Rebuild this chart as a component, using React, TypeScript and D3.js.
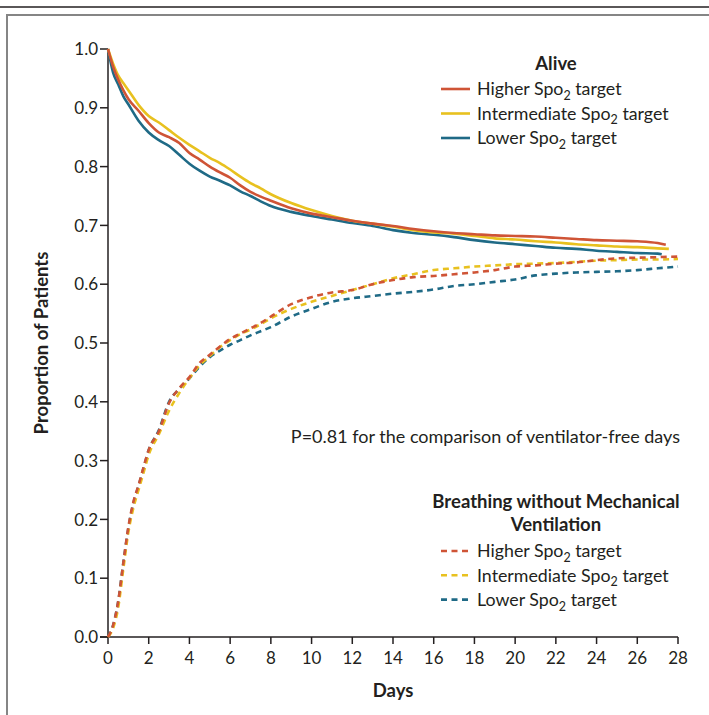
import React from "react";
import * as d3 from "d3";

const ALIVE_DAYS = [0, 0.25, 0.5, 0.75, 1, 1.5, 2, 2.5, 3, 3.5, 4, 4.5, 5, 5.5, 6, 6.5, 7, 7.5, 8, 9, 10, 11, 12, 13, 14, 15, 16, 17, 18, 19, 20, 21, 22, 23, 24, 25, 26, 27];
const ALIVE_HIGHER = [1.0, 0.97, 0.948, 0.93, 0.915, 0.895, 0.874, 0.858, 0.85, 0.84, 0.823, 0.812, 0.8, 0.79, 0.781, 0.768, 0.757, 0.749, 0.742, 0.729, 0.72, 0.714, 0.708, 0.703, 0.699, 0.694, 0.69, 0.687, 0.685, 0.683, 0.682, 0.681, 0.679, 0.677, 0.675, 0.674, 0.673, 0.67];
const ALIVE_INTER = [1.0, 0.975, 0.955, 0.942, 0.93, 0.905, 0.886, 0.875, 0.862, 0.849, 0.837, 0.826, 0.815, 0.806, 0.795, 0.783, 0.772, 0.763, 0.753, 0.738, 0.726, 0.716, 0.708, 0.703, 0.698, 0.692, 0.688, 0.686, 0.682, 0.678, 0.676, 0.673, 0.671, 0.668, 0.666, 0.664, 0.663, 0.661];
const ALIVE_LOWER = [1.0, 0.96, 0.94, 0.92, 0.906, 0.878, 0.858, 0.845, 0.835, 0.82, 0.805, 0.793, 0.783, 0.776, 0.768, 0.758, 0.75, 0.741, 0.733, 0.723, 0.716, 0.71, 0.704, 0.699, 0.692, 0.687, 0.684, 0.68, 0.675, 0.671, 0.668, 0.665, 0.662, 0.66, 0.657, 0.655, 0.653, 0.652];
const ALIVE_END_DAY = [27.4, 27.55, 27.2];
const ALIVE_END_VAL = [0.667, 0.66, 0.651];

const FREE_DAYS = [0, 0.25, 0.5, 0.75, 1, 1.25, 1.5, 1.75, 2, 2.5, 3, 3.5, 4, 4.5, 5, 5.5, 6, 6.5, 7, 7.5, 8, 9, 10, 11, 12, 13, 14, 15, 16, 17, 18, 19, 20, 21, 22, 23, 24, 25, 26, 27, 28];
const FREE_HIGHER = [0, 0.02, 0.06, 0.125, 0.187, 0.23, 0.258, 0.289, 0.318, 0.35, 0.398, 0.423, 0.442, 0.466, 0.48, 0.494, 0.507, 0.516, 0.525, 0.534, 0.545, 0.566, 0.578, 0.586, 0.59, 0.6, 0.607, 0.612, 0.614, 0.617, 0.62, 0.624, 0.63, 0.632, 0.635, 0.637, 0.641, 0.644, 0.645, 0.646, 0.647];
const FREE_INTER = [0, 0.015, 0.05, 0.115, 0.178, 0.22, 0.25, 0.28, 0.31, 0.345, 0.385, 0.415, 0.44, 0.462, 0.478, 0.493, 0.505, 0.515, 0.523, 0.532, 0.542, 0.558, 0.57, 0.58, 0.59, 0.6, 0.61, 0.617, 0.624, 0.627, 0.63, 0.632, 0.634, 0.635, 0.636, 0.638, 0.64, 0.641, 0.642, 0.642, 0.643];
const FREE_LOWER = [0, 0.02, 0.06, 0.125, 0.185, 0.228, 0.257, 0.288, 0.318, 0.352, 0.4, 0.422, 0.44, 0.46, 0.476, 0.487, 0.497, 0.505, 0.513, 0.52, 0.527, 0.545, 0.558, 0.57, 0.576, 0.58, 0.584, 0.587, 0.591, 0.597, 0.6, 0.604, 0.608, 0.615, 0.618, 0.62, 0.621, 0.622, 0.624, 0.627, 0.63];

const X_TICKS = [0, 2, 4, 6, 8, 10, 12, 14, 16, 18, 20, 22, 24, 26, 28];
const Y_TICKS = [0, 0.1, 0.2, 0.3, 0.4, 0.5, 0.6, 0.7, 0.8, 0.9, 1.0];
const SERIES_NAMES = ["Higher", "Intermediate", "Lower"];
const COLORS = ["#cf5436", "#e8c11f", "#1f6a86"];

const FONT = "Lato, 'Open Sans', sans-serif";
const INK = "#231f20";

export default function App() {
  const x = d3.scaleLinear().domain([0, 28]).range([108, 678]);
  const y = d3.scaleLinear().domain([0, 1]).range([637, 49]);
  const smooth = d3
    .line<[number, number]>()
    .x((d) => x(d[0]))
    .y((d) => y(d[1]))
    .curve(d3.curveMonotoneX);

  const alive = [ALIVE_HIGHER, ALIVE_INTER, ALIVE_LOWER].map((vals, i) => {
    const pts: [number, number][] = ALIVE_DAYS.map((d, j) => [d, vals[j]]);
    pts.push([ALIVE_END_DAY[i], ALIVE_END_VAL[i]]);
    return pts;
  });
  const free = [FREE_HIGHER, FREE_INTER, FREE_LOWER].map((vals) =>
    FREE_DAYS.map((d, j) => [d, vals[j]] as [number, number])
  );
  const order = [2, 1, 0];

  const legendLabel = (name: string) => (
    <>
      {name} Spo<tspan dy={4.5} fontSize={12.5}>2</tspan>
      <tspan dy={-4.5}> target</tspan>
    </>
  );

  return (
    <svg
      width={709}
      height={715}
      style={{ position: "absolute", left: 0, top: 0, background: "#fff" }}
      fontFamily={FONT}
    >
      <rect x={0} y={0} width={709} height={715} fill="#fff" />
      <line x1={0} x2={709} y1={7} y2={7} stroke={INK} strokeWidth={1.5} />
      <rect x={7} y={15} width={720} height={720} fill="#fff" stroke="#858585" strokeWidth={2} />

      {/* axes */}
      <line x1={x(0)} x2={x(0)} y1={y(1)} y2={y(0)} stroke={INK} strokeWidth={1.5} />
      <line x1={x(0) - 8} x2={x(28)} y1={y(0)} y2={y(0)} stroke={INK} strokeWidth={1.5} />
      {Y_TICKS.map((t) => (
        <g key={"y" + t}>
          <line x1={x(0) - 8} x2={x(0)} y1={y(t)} y2={y(t)} stroke={INK} strokeWidth={1.5} />
          <text x={x(0) - 10} y={y(t)} dy="0.36em" textAnchor="end" fontSize={17} fill={INK}>
            {t.toFixed(1)}
          </text>
        </g>
      ))}
      {X_TICKS.map((t) => (
        <g key={"x" + t}>
          <line x1={x(t)} x2={x(t)} y1={y(0)} y2={y(0) + 7} stroke={INK} strokeWidth={1.5} />
          <text x={x(t)} y={664} textAnchor="middle" fontSize={17} fill={INK}>
            {t}
          </text>
        </g>
      ))}
      <text x={x(14)} y={697} textAnchor="middle" fontSize={18.5} fontWeight="bold" fill={INK}>
        Days
      </text>
      <text
        transform={`translate(48,${y(0.5)}) rotate(-90)`}
        textAnchor="middle"
        fontSize={18.5}
        fontWeight="bold"
        fill={INK}
      >
        Proportion of Patients
      </text>

      {/* curves */}
      {order.map((i) => (
        <path key={"a" + i} d={smooth(alive[i]) || ""} fill="none" stroke={COLORS[i]} strokeWidth={2.6} />
      ))}
      {order.map((i) => (
        <path
          key={"f" + i}
          d={smooth(free[i]) || ""}
          fill="none"
          stroke={COLORS[i]}
          strokeWidth={2.6}
          strokeDasharray="6 4.5"
        />
      ))}

      {/* legend alive */}
      <text x={556} y={70} textAnchor="middle" fontSize={18.5} fontWeight="bold" fill={INK}>
        Alive
      </text>
      {SERIES_NAMES.map((n, i) => (
        <g key={"la" + n}>
          <line x1={441} x2={470} y1={89 + i * 24.5} y2={89 + i * 24.5} stroke={COLORS[i]} strokeWidth={2.6} />
          <text x={477} y={89 + i * 24.5} dy="0.36em" fontSize={17.8} fill={INK}>
            {legendLabel(n)}
          </text>
        </g>
      ))}

      <text x={556} y={508} textAnchor="middle" fontSize={18.5} fontWeight="bold" fill={INK}>
        Breathing without Mechanical
      </text>
      <text x={556} y={531} textAnchor="middle" fontSize={18.5} fontWeight="bold" fill={INK}>
        Ventilation
      </text>
      {SERIES_NAMES.map((n, i) => (
        <g key={"lf" + n}>
          <line
            x1={441}
            x2={470}
            y1={551 + i * 24.3}
            y2={551 + i * 24.3}
            stroke={COLORS[i]}
            strokeWidth={2.6}
            strokeDasharray="6 4.5"
          />
          <text x={477} y={551 + i * 24.3} dy="0.36em" fontSize={17.8} fill={INK}>
            {legendLabel(n)}
          </text>
        </g>
      ))}

      <text x={680} y={443} textAnchor="end" fontSize={18} fill={INK}>
        P=0.81 for the comparison of ventilator-free days
      </text>
    </svg>
  );
}
